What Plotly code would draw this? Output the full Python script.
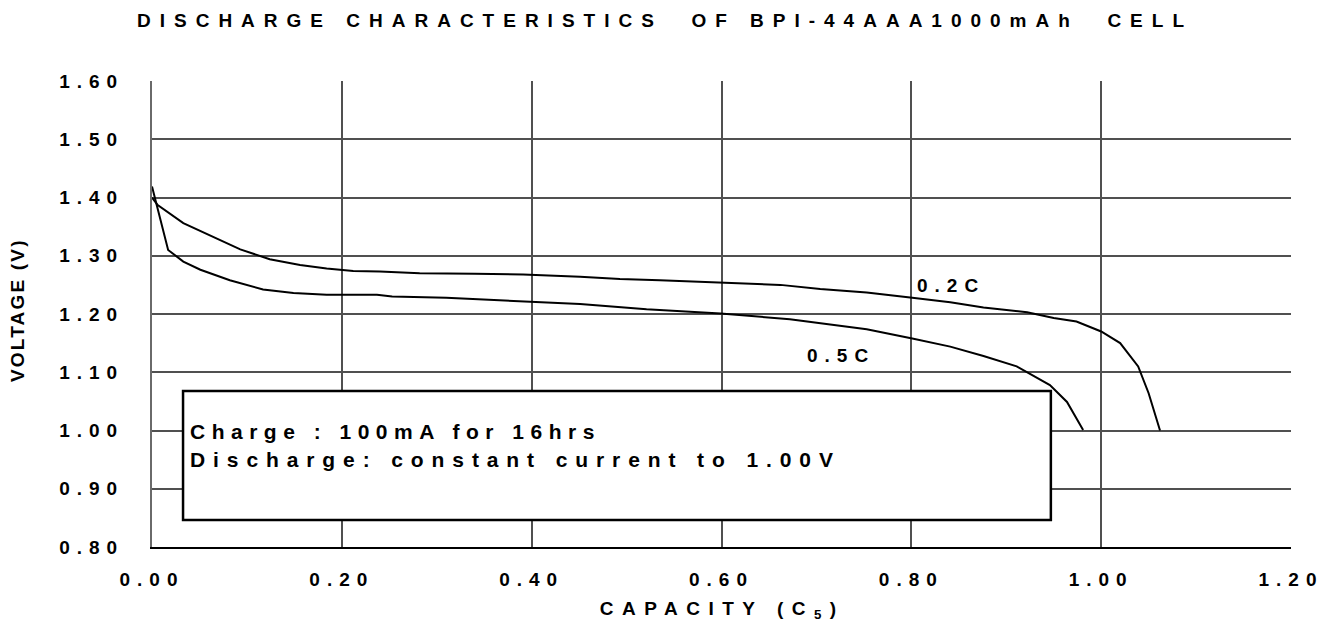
import plotly.graph_objects as go

# ---- data ----
cap_02 = [0.000, 0.006, 0.033, 0.072, 0.093, 0.124, 0.156, 0.184, 0.212, 0.240,
          0.282, 0.340, 0.391, 0.451, 0.493, 0.535, 0.599, 0.662, 0.704, 0.753,
          0.801, 0.841, 0.876, 0.922, 0.950, 0.974, 1.000, 1.020, 1.039, 1.050, 1.062]
volt_02 = [1.400, 1.387, 1.356, 1.327, 1.311, 1.294, 1.284, 1.278, 1.274, 1.273,
           1.270, 1.269, 1.268, 1.264, 1.260, 1.258, 1.254, 1.250, 1.243, 1.237,
           1.228, 1.220, 1.211, 1.203, 1.193, 1.187, 1.170, 1.150, 1.110, 1.064, 1.000]

cap_05 = [0.000, 0.017, 0.033, 0.051, 0.082, 0.117, 0.149, 0.184, 0.237, 0.253,
          0.310, 0.400, 0.451, 0.521, 0.599, 0.672, 0.718, 0.753, 0.801, 0.841,
          0.876, 0.911, 0.946, 0.964, 0.981]
volt_05 = [1.419, 1.310, 1.290, 1.276, 1.258, 1.242, 1.236, 1.233, 1.233, 1.230,
           1.228, 1.221, 1.217, 1.208, 1.201, 1.191, 1.181, 1.174, 1.158, 1.144,
           1.128, 1.110, 1.078, 1.049, 1.001]

series_names = ["0.2C", "0.5C"]
x_tick_vals = [0.0, 0.2, 0.4, 0.6, 0.8, 1.0, 1.2]
x_tick_text = ["0.00", "0.20", "0.40", "0.60", "0.80", "1.00", "1.20"]
y_tick_vals = [0.8, 0.9, 1.0, 1.1, 1.2, 1.3, 1.4, 1.5, 1.6]
y_tick_text = ["0.80", "0.90", "1.00", "1.10", "1.20", "1.30", "1.40", "1.50", "1.60"]

title_text = "DISCHARGE CHARACTERISTICS\u00a0 OF BPI-44AAA1000mAh\u00a0 CELL"
x_title = "CAPACITY (C<sub>5</sub>)"
y_title = "VOLTAGE (V)"
note_lines = ["Charge : 100mA for 16hrs", "Discharge: constant current to 1.00V"]

FONT = "Liberation Sans, Arial, sans-serif"
GRID = "#505050"


def bold(size):
    return dict(family=FONT, size=size, color="black", weight="bold")


fig = go.Figure()
for xs, ys, name in [(cap_02, volt_02, series_names[0]), (cap_05, volt_05, series_names[1])]:
    fig.add_trace(go.Scatter(x=xs, y=ys, mode="lines", name=name,
                             line=dict(color="black", width=2), showlegend=False))

# text box
fig.add_shape(type="rect", xref="x", yref="y", x0=0.0327, x1=0.947, y0=0.8464, y1=1.0678,
              fillcolor="white", line=dict(color="black", width=2.5), layer="between")

# 0,1: curve labels
fig.add_annotation(x=0.842, y=1.2485, xref="x", yref="y", text=series_names[0], showarrow=False,
                   xanchor="center", yanchor="middle", font=bold(19))
fig.add_annotation(x=0.726, y=1.128, xref="x", yref="y", text=series_names[1], showarrow=False,
                   xanchor="center", yanchor="middle", font=bold(19))
# 2,3: note lines
for i, line in enumerate(note_lines):
    fig.add_annotation(x=0.038, y=[0.9991, 0.9494][i], xref="x", yref="y", text=line,
                       showarrow=False, xanchor="left", yanchor="middle", align="left",
                       font=bold(21))
# 4: x axis title, 5: y axis title
fig.add_annotation(x=0.5, y=(547 - 610) / 466, xref="paper", yref="paper", text=x_title,
                   showarrow=False, xanchor="center", yanchor="middle", font=bold(19))
fig.add_annotation(x=(17 - 152) / 1139, y=(547 - 310) / 466, xref="paper", yref="paper",
                   text=y_title, textangle=-90, showarrow=False,
                   xanchor="center", yanchor="middle", font=bold(19))

fig.update_layout(
    template="none",
    width=1330, height=625, autosize=False,
    margin=dict(l=152, r=39, t=81, b=78, pad=0),
    paper_bgcolor="white", plot_bgcolor="white",
    title=dict(text=title_text, x=0.5, xref="container", xanchor="center",
               y=1 - 20 / 625, yref="container", yanchor="middle", font=bold(19)),
    xaxis=dict(range=[0, 1.2], tickmode="array", tickvals=x_tick_vals, ticktext=x_tick_text,
               showgrid=True, gridcolor=GRID, gridwidth=1.5, zeroline=False,
               showline=True, linecolor="black", linewidth=2, ticks="",
               automargin=False, ticklabelstandoff=14, tickfont=bold(19)),
    yaxis=dict(range=[0.8, 1.6], tickmode="array", tickvals=y_tick_vals, ticktext=y_tick_text,
               showgrid=True, gridcolor=GRID, gridwidth=1.5, zeroline=False,
               showline=True, linecolor="#6a6a6a", linewidth=2, ticks="",
               automargin=False, ticklabelstandoff=22, tickfont=bold(19)),
)

post = """
(function(){
  document.body.style.margin = '0';
  var gd = document.getElementById('{plot_id}');
  function ls(sel, v){
    var n = gd.querySelectorAll(sel);
    for (var i = 0; i < n.length; i++){ n[i].style.letterSpacing = v + 'px'; }
  }
  ls('.gtitle', 9);
  ls('.xtick text', 7);
  ls('.ytick text', 7);
  ls('.annotation[data-index="0"] .annotation-text', 7);
  ls('.annotation[data-index="1"] .annotation-text', 7);
  ls('.annotation[data-index="2"] .annotation-text', 6.5);
  ls('.annotation[data-index="3"] .annotation-text', 7.9);
  ls('.annotation[data-index="4"] .annotation-text', 8.5);
  ls('.annotation[data-index="5"] .annotation-text', 2.2);
})();
"""

fig.write_html("out.html", config={"displayModeBar": False}, post_script=post)
